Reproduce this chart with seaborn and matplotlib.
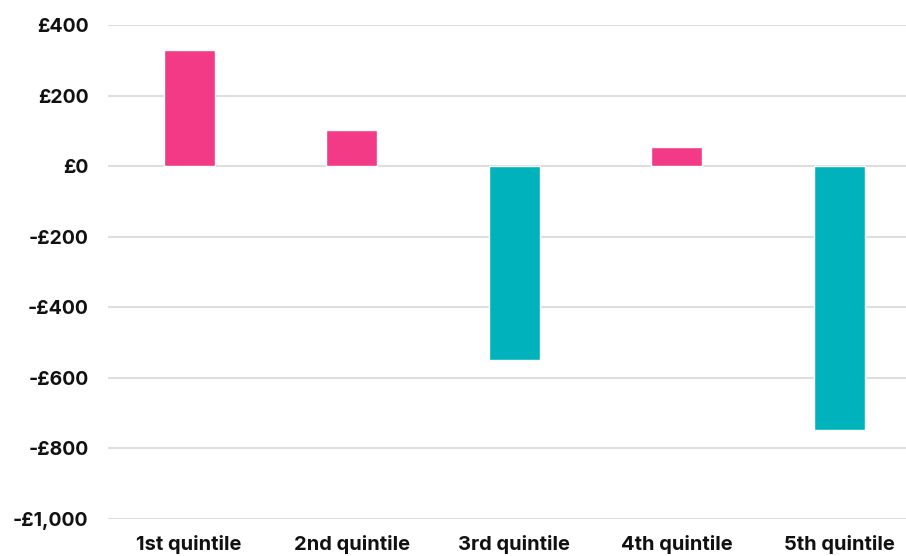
import matplotlib
matplotlib.use("Agg")
import matplotlib.pyplot as plt
import seaborn as sns
import pandas as pd
from matplotlib.ticker import FixedLocator, FuncFormatter

categories = ["1st quintile", "2nd quintile", "3rd quintile", "4th quintile", "5th quintile"]
values = [329, 103, -549, 53, -747]
yticks = [400, 200, 0, -200, -400, -600, -800, -1000]

PINK = "#F23A87"
TEAL = "#00B2BB"

sns.set_theme(style="white")
plt.rcParams["font.family"] = ["Inter", "DejaVu Sans"]

df = pd.DataFrame({"cat": categories, "val": values})
df["sign"] = ["pos" if v >= 0 else "neg" for v in values]

fig = plt.figure(figsize=(9.06, 5.56), dpi=100)
W, H = 906, 556
left, right = 108, 906
top, bottom = 25, 519
ax = fig.add_axes([left / W, 1 - bottom / H, (right - left) / W, (bottom - top) / H])

sns.barplot(data=df, x="cat", y="val", hue="sign", palette={"pos": PINK, "neg": TEAL},
            width=0.315, dodge=False, legend=False, ax=ax, saturation=1)

ax.set_ylim(-1000, 400)
ax.set_xlim(-0.5, 4.5 - (920.5 - 906) / 162.5)
ax.yaxis.set_major_locator(FixedLocator(yticks))

def fmt(v, pos):
    v = int(round(v))
    s = "£{:,}".format(abs(v))
    return "-" + s if v < 0 else s

ax.yaxis.set_major_formatter(FuncFormatter(fmt))
ax.grid(axis="y", color="#dedede", linewidth=1.5)
ax.set_axisbelow(True)
for sp in ax.spines.values():
    sp.set_visible(False)
ax.set_xlabel("")
ax.set_ylabel("")
ax.tick_params(axis="y", length=0, pad=14, labelsize=14)
ax.tick_params(axis="x", length=0, pad=11.5, labelsize=14.5)
for lbl in ax.get_yticklabels() + ax.get_xticklabels():
    lbl.set_fontweight("bold")
    lbl.set_color("#111111")

fig.savefig("out.png", dpi=100)
